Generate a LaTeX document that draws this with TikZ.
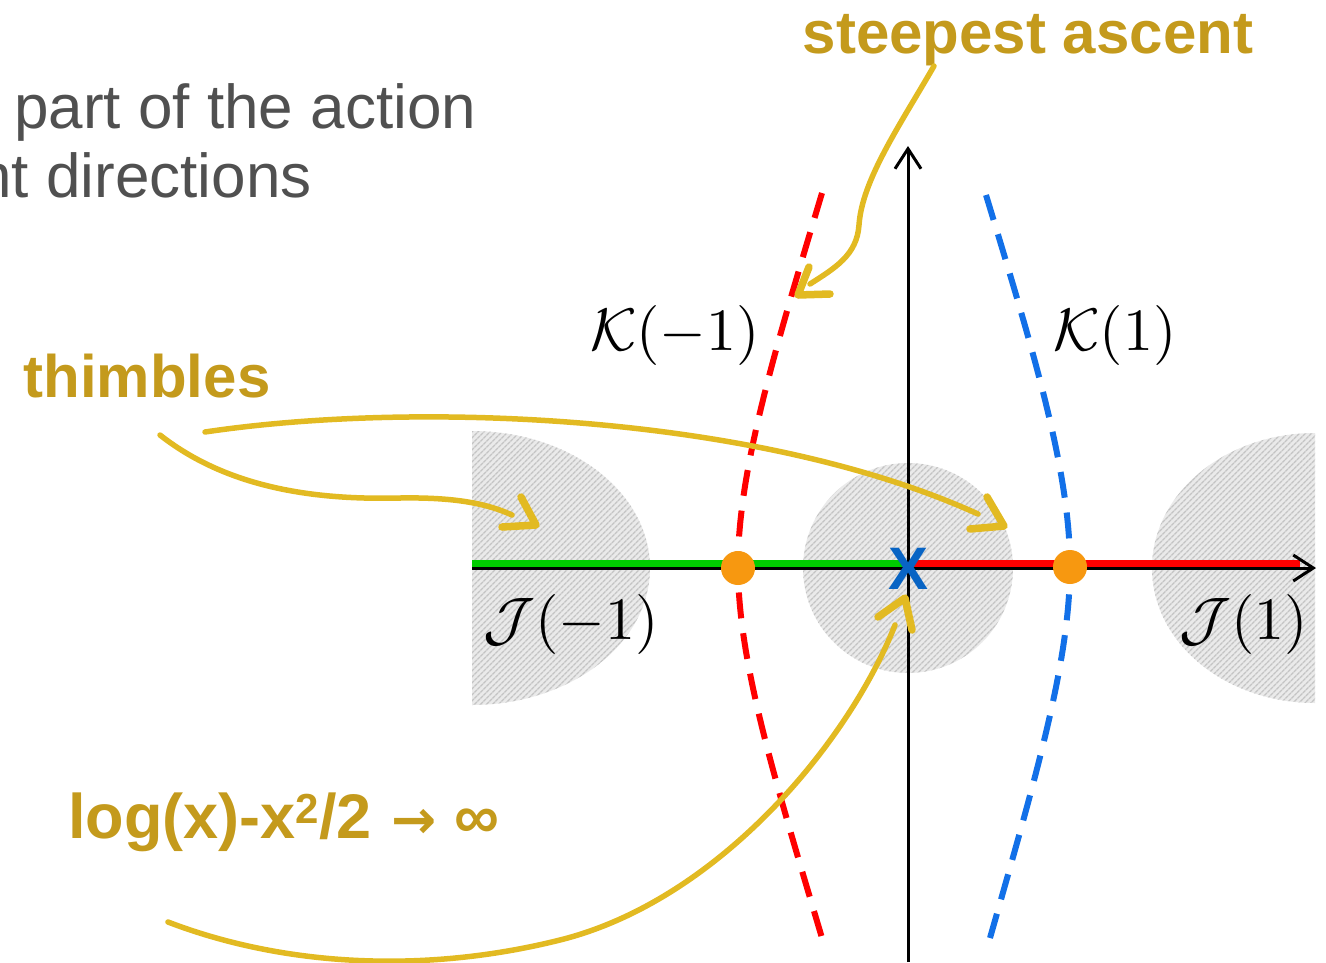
\documentclass[tikz,border=0pt]{standalone}
\usepackage{fontspec}
\setsansfont{Liberation Sans}
\newfontfamily\djv{DejaVu Sans}
\usetikzlibrary{arrows.meta,patterns.meta}
\definecolor{gold}{RGB}{196,154,28}
\definecolor{ylw}{RGB}{226,186,34}
\definecolor{grtx}{RGB}{80,80,80}
\definecolor{dotor}{RGB}{247,152,16}
\definecolor{xblue}{RGB}{8,100,196}
\definecolor{kblue}{RGB}{18,112,232}
\definecolor{jgreen}{RGB}{0,204,0}
\definecolor{hbg}{RGB}{234,234,234}
\definecolor{hfg}{RGB}{196,196,196}
\begin{document}
\begin{tikzpicture}[x=1pt,y=-1pt,
  hatch/.style={fill=hbg, postaction={pattern={Lines[angle=45,distance=4pt,line width=1.4pt]}, pattern color=hfg}},
  axisline/.style={line width=3pt, draw=black, -{Straight Barb[length=20pt,width=26pt,line width=3pt]}},
  thimble/.style={line width=7pt},
  dashcurve/.style={line width=6pt, dash pattern=on 26pt off 15pt},
  hand/.style={draw=ylw, line width=5.5pt, line cap=round},
  handhead/.style={draw=ylw, line width=7.5pt, line cap=round, line join=round},
  goldlabel/.style={text=gold, font=\sffamily\bfseries\fontsize{60}{66}\selectfont, inner sep=0pt},
  graylabel/.style={text=grtx, font=\sffamily\fontsize{62}{68}\selectfont, inner sep=0pt},
  mathlabel/.style={scale=6, inner sep=0pt},
  sdot/.style={circle, fill=dotor, minimum size=34pt, inner sep=0pt}
]
\useasboundingbox (0,0) rectangle (1326,962);

% hatched regions
\begin{scope}
  \clip (472,0) rectangle (1315,962);
  \path[hatch] (472,568) ellipse [x radius=178, y radius=137];
  \path[hatch] (1315,568) ellipse [x radius=163, y radius=135];
\end{scope}
\path[hatch] (908,568) circle [radius=105];

% gray text (cut by the page edge, as in the reference)
\node[graylabel, anchor=base west] (t1) at (14,128) {part of the action};
\node[graylabel, anchor=base east] (t2) at (312,197) {nt directions};

% dashed curves
\coordinate (r1) at (822,193);
\coordinate (r2) at (738,566);
\coordinate (r3) at (822,938);
\draw[dashcurve, red] (r1) .. controls (775,350) and (738,470) .. (r2)
   .. controls (738,662) and (775,780) .. (r3);
\coordinate (b1) at (986,195);
\coordinate (b2) at (1070,566);
\coordinate (b3) at (990,938);
\draw[dashcurve, kblue] (b1) .. controls (1033,350) and (1070,470) .. (b2)
   .. controls (1070,662) and (1035,780) .. (b3);

% thimbles on the real axis
\coordinate (xl) at (472,563.5);
\coordinate (x0l) at (905,563.5);
\coordinate (x0r) at (910,563.5);
\coordinate (xr) at (1300,563.5);
\draw[thimble, jgreen] (xl) -- (x0l);
\draw[thimble, red] (x0r) -- (xr);

% axes
\coordinate (ax0) at (472,568);
\coordinate (ax1) at (1316,568);
\coordinate (ay0) at (908,962);
\coordinate (ay1) at (908,146);
\draw[axisline] (ax0) -- (ax1);
\draw[axisline] (ay0) -- (ay1);

% labels
\node[mathlabel] (Km) at (675,335) {$\mathcal{K}(-1)$};
\node[mathlabel] (Kp) at (1115,335) {$\mathcal{K}(1)$};
\node[mathlabel] (Jm) at (571,624) {$\mathcal{J}(-1)$};
\node[mathlabel] (Jp) at (1244,624) {$\mathcal{J}(1)$};

\node[goldlabel, anchor=base] (sa) at (1028,53) {steepest ascent};
\node[goldlabel, anchor=base] (th) at (147,397) {thimbles};
\node[goldlabel, anchor=base west, font=\sffamily\bfseries\fontsize{63}{68}\selectfont] (lg) at (68,838)
  {log(x)-x\raisebox{15pt}{\fontsize{42}{44}\selectfont 2}/2\hspace{20pt}{\djv\fontsize{54}{56}\selectfont →}\hspace{18pt}∞};

% hand-drawn yellow arrows
\coordinate (sas) at (934,66);
\coordinate (sae) at (810,284);
\draw[hand] (sas) .. controls (900,125) and (862,180) .. (859,225)
   .. controls (857,255) and (835,268) .. (sae);
\draw[handhead] (809,267) -- (798,295) -- (830,294);

\coordinate (th1s) at (160,435);
\coordinate (th1e) at (512,515);
\draw[hand] (th1s) .. controls (230,490) and (320,500) .. (400,498)
   .. controls (460,497) and (490,505) .. (th1e);
\draw[handhead] (521,497) -- (536,525) -- (502,527);

\coordinate (th2s) at (205,432);
\coordinate (th2e) at (978,514);
\draw[hand] (th2s) .. controls (420,400) and (760,415) .. (th2e);
\draw[handhead] (987,497) -- (1004,526) -- (970,529);

\coordinate (lgs) at (168,922);
\coordinate (lge) at (895,625);
\draw[hand] (lgs) .. controls (280,965) and (420,975) .. (560,940)
   .. controls (720,900) and (850,740) .. (lge);
\draw[handhead] (878,617) -- (905,598) -- (912,630);

% saddle points and singular point
\node[sdot] (s1) at (738,568) {};
\node[sdot] (s2) at (1070,567) {};
\node[text=xblue, font=\sffamily\bfseries\fontsize{60}{62}\selectfont, inner sep=0pt] (X) at (909,569) {X};
\end{tikzpicture}
\end{document}
